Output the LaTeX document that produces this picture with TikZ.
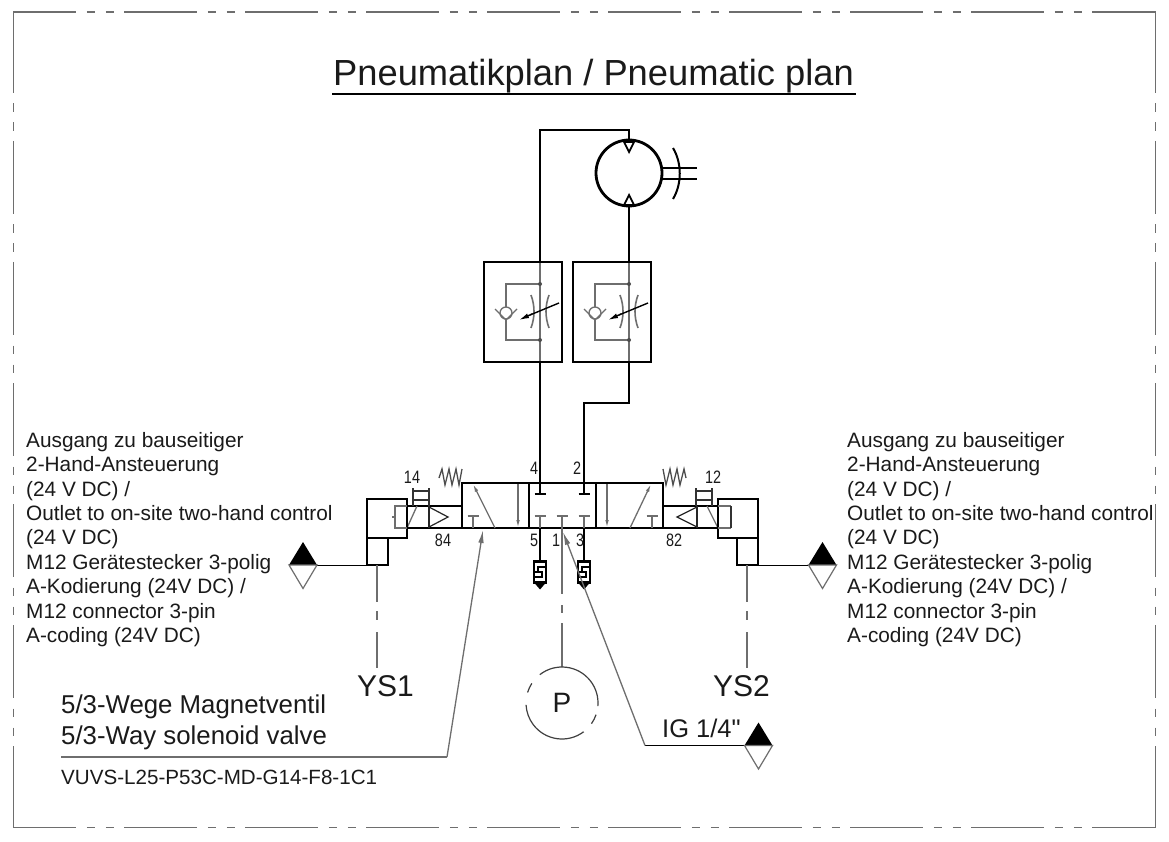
\documentclass[tikz,border=0pt]{standalone}
\usepackage{fontspec}
\setmainfont{Liberation Sans}
\newfontfamily\narrowf[FakeStretch=0.8]{Liberation Sans}
\newfontfamily\rawf{Liberation Sans}
\usetikzlibrary{arrows.meta}
\definecolor{inkc}{HTML}{1A1A1A}
\definecolor{greyl}{HTML}{6E6E6E}
\tikzset{
  pipe/.style={line width=2.8pt,black,line join=miter},
  med/.style={line width=1.5pt,black!85},
  fine/.style={line width=1.3pt,greyl},
  framedash/.style={line width=1.4pt,greyl,dash pattern=on 73pt off 10.5pt on 8.5pt off 10.5pt on 8.5pt off 10pt},
  body/.style={anchor=north west,inner sep=0pt,align=left,font=\fontsize{20.8}{24.4}\selectfont,text=inkc},
  big/.style={anchor=base west,inner sep=0pt,text=inkc},
  port/.style={inner sep=0pt,font=\narrowf\fontsize{18}{18}\selectfont,text=inkc},
  leadertip/.style={-{Latex[length=13pt,width=5.5pt]}},
  valvetip/.style={-{Latex[length=8pt,width=3.5pt]}},
  silencer/.pic={
    \draw[line width=2.3pt,fill=white] (-6,0) rectangle (6,21);
    \fill[black] (-6,21) -- (6,21) -- (0,28) -- cycle;
    \draw[line width=1.4pt] (5.5,5.5) -- (-2,5.5) -- (-2,10.5) -- (2,10.5) -- (2,15.5) -- (-5.5,15.5);
    \draw[line width=1.4pt] (-5.5,10.5) -- (-2,10.5);
  },
  ground/.pic={
    \fill[black] (-14,0) -- (14,0) -- (0,-23) -- cycle;
    \draw[line width=1.2pt,greyl,fill=white] (-14,0) -- (14,0) -- (0,23.5) -- cycle;
  },
  tee/.pic={
    \draw[line width=1.1pt,greyl] (0,0) -- (0,-12);
    \draw[line width=1.3pt,greyl] (-5.5,-12) -- (5.5,-12);
  },
  teedn/.pic={
    \draw[line width=1.1pt,black] (0,0) -- (0,11);
    \draw[line width=1.3pt,black] (-5.5,11) -- (5.5,11);
  },
  flowctl/.pic={
    \draw[fine] (0,-22) -- (0,78);
    \draw[fine] (0,0) -- (-34,0) -- (-34,56) -- (0,56);
    \fill[black!70] (0,0) circle[radius=2pt] (0,56) circle[radius=2pt];
    \draw[line width=1.3pt,greyl,fill=white] (-34,29) circle[radius=6pt];
    \draw[line width=1.3pt,greyl] (-45,25) -- (-34,36) -- (-23,25);
    \draw[line width=1.6pt,greyl] (-9,11) .. controls (-5,22) and (-5,33) .. (-9,44);
    \draw[line width=1.6pt,greyl] (9,11) .. controls (5,22) and (5,33) .. (9,44);
    \draw[line width=1.4pt,black] (19,19) -- (-10,31);
    \draw[line width=1.4pt,black,-{Latex[length=10pt,width=5pt]}] (-8,30) -- (-21,36);
    \draw[pipe] (-56,-22) rectangle (22,78);
  },
}
\begin{document}
\begin{tikzpicture}[x=1pt,y=-1pt]
\useasboundingbox (0,0) rectangle (1169,842);
\fill[white] (0,0) rectangle (1169,842);

% frame
\draw[framedash,dash phase=10.2pt] (13.5,12) -- (1155.7,12);
\draw[framedash,dash phase=10.2pt] (13.5,827.5) -- (1155.7,827.5);
\draw[framedash] (13.5,20) -- (13.5,819);
\draw[framedash] (1155.7,20) -- (1155.7,819);
\draw[line width=1.4pt,greyl] (13.5,11.3) -- (13.5,21);
\draw[line width=1.4pt,greyl] (1155.7,11.3) -- (1155.7,21);
\draw[line width=1.4pt,greyl] (13.5,817) -- (13.5,828.2);
\draw[line width=1.4pt,greyl] (1155.7,817) -- (1155.7,828.2);

% title
\node[big,font=\fontsize{36.3}{38}\selectfont] (title) at (333,86) {Pneumatikplan / Pneumatic plan};
\draw[line width=1.5pt,black] (332,94) -- (856,94);

% named points
\coordinate (p4) at (540,483);
\coordinate (p2) at (584,483);
\coordinate (p5) at (540,528);
\coordinate (p1) at (562,528);
\coordinate (p3) at (584,528);
\coordinate (fa) at (540,262);
\coordinate (fb) at (629,262);
\coordinate (fa2) at (540,362);
\coordinate (fb2) at (629,362);
\coordinate (mt) at (629,140);
\coordinate (mb) at (629,206);
\coordinate (mc) at (629,173);

% pipes
\draw[pipe] (fa) |- (mt |- 0,130) -- (mt);
\draw[pipe] (fb) -- (mb);
\draw[pipe] (fa2) -- (p4);
\draw[pipe] (fb2) -- (629,403) -- (584,403) -- (p2);
\draw[pipe] (p5) -- (540,562);
\draw[pipe] (p3) -- (584,562);

% motor
\draw[pipe,fill=white] (mc) circle[radius=33pt];
\draw[line width=1.8pt,fill=white] (624,142) -- (634,142) -- (629,152) -- cycle;
\draw[line width=1.8pt,fill=white] (624,205) -- (634,205) -- (629,195) -- cycle;
\draw[line width=2pt] (662,168) -- (697,168);
\draw[line width=2pt] (662,179) -- (697,179);
\draw[line width=2pt] (673,148) .. controls (682,163) and (682,184) .. (673,199);

% flow controls
\path (540,284) pic {flowctl};
\path (629,284) pic {flowctl};

% valve body
\draw[pipe] (462,483) rectangle (663,528);
\draw[pipe] (529,483) -- (529,528);
\draw[pipe] (596,483) -- (596,528);

% inner symbols
\draw[fine,valvetip] (495,528) -- (473,484);
\draw[fine,valvetip] (518,484) -- (518,528);
\draw[fine,valvetip] (607,484) -- (607,528);
\draw[fine,valvetip] (630,528) -- (651,484);
\path (473,528) pic {tee};
\path (652,528) pic {tee};
\path (540,528) pic {tee};
\path (562,528) pic {tee};
\path (584,528) pic {tee};
\path (540,483) pic {teedn};
\path (584,483) pic {teedn};

% springs
\draw[line width=1.3pt,black!70] (439,478) -- (442,469) -- (445,485) -- (449,469) -- (452,485) -- (456,469) -- (459,485) -- (462,469);
\draw[line width=1.3pt,black!70] (663,469) -- (666,485) -- (670,469) -- (673,485) -- (677,469) -- (680,485) -- (684,469) -- (686,478);

% left actuator
\draw[pipe] (407,506) -- (462,506);
\draw[pipe] (407,528) -- (462,528);
\draw[line width=1.8pt,black!85] (429,506) -- (429,528);
\draw[line width=1.2pt,black!85] (429,507) -- (448,517) -- (429,527);
\draw[fine] (407,528) -- (417,506);
\draw[line width=1.1pt,black!80] (413,488) -- (413,506) (429,488) -- (429,506) (413,491) -- (429,491) (413,500) -- (429,500);
\draw[pipe,fill=white] (367,499) rectangle (407,538);
\draw[pipe,fill=white] (367,538) rectangle (388,565);
\draw[fine] (407,506) -- (395,506) -- (395,528) -- (407,528);
\draw[fine] (392,517) -- (396,517);

% right actuator
\draw[pipe] (663,506) -- (718,506);
\draw[pipe] (663,528) -- (718,528);
\draw[line width=1.8pt,black!85] (697,506) -- (697,528);
\draw[line width=1.2pt,black!85] (697,507) -- (677,517) -- (697,527);
\draw[fine] (718,528) -- (707,506);
\draw[line width=1.1pt,black!80] (696,488) -- (696,506) (712,488) -- (712,506) (696,491) -- (712,491) (696,500) -- (712,500);
\draw[pipe,fill=white] (718,499) rectangle (758,538);
\draw[pipe,fill=white] (737,538) rectangle (758,565);
\draw[fine] (718,506) -- (731,506) (718,528) -- (731,528);
\draw[line width=2pt,black!80] (731,506) -- (731,528);

% silencers
\path (540,561.5) pic {silencer};
\path (584,561.5) pic {silencer};

% connection lines and ground symbols
\coordinate (gl) at (303,565);
\coordinate (gr) at (822.5,565);
\coordinate (gi) at (758.5,745.5);
\draw[line width=1pt,black] (gl) -- (367,565);
\draw[line width=1pt,black] (758,565) -- (gr);
\draw[line width=1.2pt,black] (645,745.5) -- (gi);
\path (gl) pic {ground};
\path (gr) pic {ground};
\path (gi) pic {ground};

% chain lines
\draw[fine] (377,565) -- (377,602);
\draw[fine] (377,611) -- (377,620);
\draw[fine] (377,632) -- (377,668);
\draw[fine] (747,565) -- (747,602);
\draw[fine] (747,611) -- (747,620);
\draw[fine] (747,632) -- (747,668);
\draw[fine] (562,528) -- (562,594);
\draw[fine] (562,605) -- (562,613);
\draw[fine] (562,623) -- (562,667);

% P circle
\coordinate (pc) at (562,703);
\draw[line width=1.2pt,black!75] ([shift={(128:36pt)}]pc) arc[start angle=128,end angle=-5,radius=36pt];
\draw[line width=1.2pt,black!75] ([shift={(-19:36pt)}]pc) arc[start angle=-19,end angle=-35,radius=36pt];
\draw[line width=1.2pt,black!75] ([shift={(-53:36pt)}]pc) arc[start angle=-53,end angle=-177,radius=36pt];
\draw[line width=1.2pt,black!75] ([shift={(163:36pt)}]pc) arc[start angle=163,end angle=147,radius=36pt];
\node[inner sep=0pt,font=\fontsize{28}{28}\selectfont,text=inkc] (ptext) at (562,703) {P};

% leaders
\coordinate (la) at (483,530);
\coordinate (lb) at (447,757);
\coordinate (lc) at (61,757);
\coordinate (ld) at (563,532);
\coordinate (le) at (645,745.5);
\draw[fine] (lc) -- (lb);
\draw[fine,leadertip] (lb) -- (la);
\draw[fine,leadertip] (le) -- (ld);

% port labels
\node[port] (t14) at (412,477) {14};
\node[port] (t84) at (443,540) {84};
\node[port] (t4) at (534,468) {4};
\node[port] (t2) at (577,468) {2};
\node[port] (t5) at (534,540) {5};
\node[port] (t1) at (556,540) {1};
\node[port] (t3) at (580,540) {3};
\node[port] (t12) at (713,477) {12};
\node[port] (t82) at (674,540) {82};

% text blocks
\node[body] (ltext) at (26,432) {Ausgang zu bauseitiger\\2-Hand-Ansteuerung\\(24 V DC) /\\Outlet to on-site two-hand control\\(24 V DC)\\M12 Gerätestecker 3-polig\\A-Kodierung (24V DC) /\\M12 connector 3-pin\\A-coding (24V DC)};
\node[body] (rtext) at (847,432) {Ausgang zu bauseitiger\\2-Hand-Ansteuerung\\(24 V DC) /\\Outlet to on-site two-hand control\\(24 V DC)\\M12 Gerätestecker 3-polig\\A-Kodierung (24V DC) /\\M12 connector 3-pin\\A-coding (24V DC)};

\node[big,font=\fontsize{30}{30}\selectfont] (ys1) at (357,696) {YS1};
\node[big,font=\fontsize{30}{30}\selectfont] (ys2) at (713,696) {YS2};
\node[big,font=\rawf\fontsize{25.5}{26}\selectfont] (ig) at (662,737) {IG 1/4"};
\node[big,font=\fontsize{25.8}{26}\selectfont] (w1) at (61,713) {5/3-Wege Magnetventil};
\node[big,font=\fontsize{25.8}{26}\selectfont] (w2) at (61,744) {5/3-Way solenoid valve};
\node[big,font=\fontsize{20.6}{21}\selectfont] (code) at (61,784) {VUVS-L25-P53C-MD-G14-F8-1C1};
\end{tikzpicture}
\end{document}
